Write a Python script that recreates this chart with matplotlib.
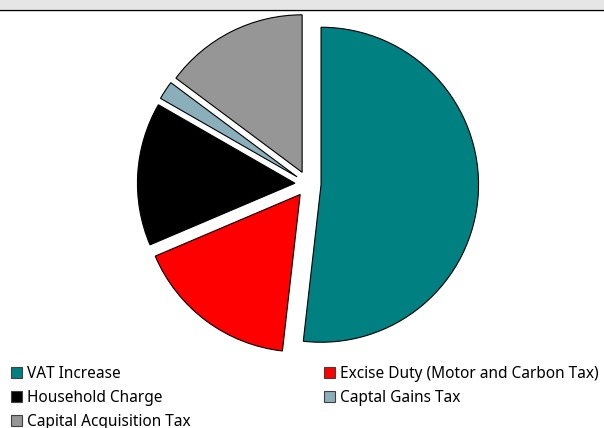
import matplotlib
matplotlib.use("Agg")
import matplotlib.pyplot as plt
from matplotlib.patches import Rectangle

# data
labels = ["VAT Increase", "Excise Duty (Motor and Carbon Tax)", "Household Charge",
          "Captal Gains Tax", "Capital Acquisition Tax"]
shares = [51.8, 16.8, 14.7, 1.9, 14.8]
colors = ["#008080", "#FF0000", "#000000", "#8AAFBB", "#969696"]

W, H = 604, 428
fig = plt.figure(figsize=(W / 100, H / 100), dpi=100)
fig.patch.set_facecolor("white")

# pie axes spanning figure; pixel scale equal in x and y
r_px = 157.5
cx, cy = 308, 184
ax = fig.add_axes([0, 0, 1, 1])
ax.pie(shares, colors=colors, startangle=90, counterclock=False,
       explode=[0.083] * len(shares),
       wedgeprops=dict(edgecolor="black", linewidth=0.8))
ax.set_aspect("auto")
ax.set_xlim(-cx / r_px, (W - cx) / r_px)
ax.set_ylim(-(H - cy) / r_px, cy / r_px)
ax.axis("off")


def fx(px):
    return px / W


def fy(py):
    return 1 - py / H


# grey band at the top
fig.add_artist(Rectangle((0, fy(9)), 1, 9 / H, transform=fig.transFigure,
                         facecolor="#E6E6E6", edgecolor="none"))
fig.add_artist(plt.Line2D([0, 1], [fy(9.5), fy(9.5)], transform=fig.transFigure,
                          color="black", linewidth=1.0))

# legend, row-major in two columns
col_x = [11, 324]
row_base = [378, 402, 426]
sq = 11
for k in range(len(labels)):
    row, col = divmod(k, 2)
    x0 = col_x[col]
    yb = row_base[row]
    fig.add_artist(Rectangle((fx(x0), fy(yb)), sq / W, sq / H,
                             transform=fig.transFigure, facecolor=colors[k],
                             edgecolor="#404040", linewidth=0.8))
    fig.text(fx(x0 + 16), fy(yb), labels[k], fontsize=11.1,
             family=["Noto Sans", "DejaVu Sans"], va="baseline", ha="left")

fig.savefig("out.png", dpi=100)
